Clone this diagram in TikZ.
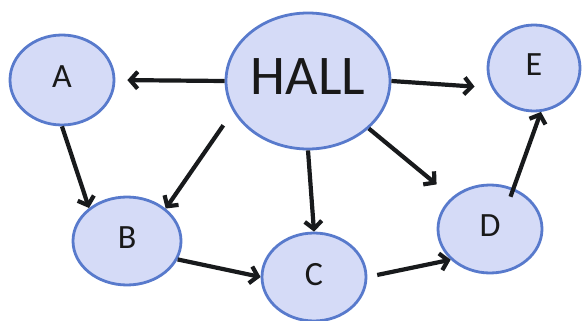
\documentclass[tikz,border=0pt]{standalone}
\usepackage{fontspec}
\setmainfont{Carlito}
\usetikzlibrary{shapes.geometric,arrows.meta}
\definecolor{roomfill}{RGB}{213,219,247}
\definecolor{roomline}{RGB}{88,122,204}
\definecolor{arrowink}{RGB}{24,26,28}

\begin{document}
\begin{tikzpicture}[x=1pt,y=1pt,yscale=-1,xscale=1,
  room/.style={ellipse,draw=roomline,fill=roomfill,line width=2.8pt,inner sep=0pt,
    text=black!90,text depth=6pt,font=\fontsize{34}{40}\selectfont},
  link/.style={draw=arrowink,line width=4.2pt,-{Straight Barb[length=7.5pt,width=17pt]}}]
\useasboundingbox (0,0) rectangle (586,321);

%Shape: Ellipse [id:HALL]
\node[room,minimum width=164pt,minimum height=136pt,text depth=8pt,font=\fontsize{56}{60}\selectfont] (HALL) at (308,81) {HALL};
%Shape: Ellipse [id:A]
\node[room,minimum width=104pt,minimum height=90pt] (A) at (62,80) {A};
%Shape: Ellipse [id:B]
\node[room,minimum width=108pt,minimum height=88pt] (B) at (127,241) {B};
%Shape: Ellipse [id:C]
\node[room,minimum width=104pt,minimum height=88pt] (C) at (314,277) {C};
%Shape: Ellipse [id:D]
\node[room,minimum width=104pt,minimum height=88pt] (D) at (490,229) {D};
%Shape: Ellipse [id:E]
\node[room,minimum width=92pt,minimum height=86pt] (E) at (534,68) {E};

% Arrows out of the hall
\draw[link,shorten >=12pt] (HALL.west) -- (A.east);
\draw[link,shorten >=17pt] (HALL.east) -- (E.205);
\draw[link,shorten <=17pt] (HALL.202) -- (B.40);
\draw[link] (HALL.south) -- (C.north);
\draw[link,shorten >=20pt] (HALL.322) -- (D.140);

% Arrows between rooms
\draw[link] (A.south) -- (B.139);
\draw[link] (B.340) -- (C.west);
\draw[link,shorten <=10pt] (C.east) -- (D.218);
\draw[link,shorten <=-9pt] (D.60) -- (E.279);

\end{tikzpicture}
\end{document}
